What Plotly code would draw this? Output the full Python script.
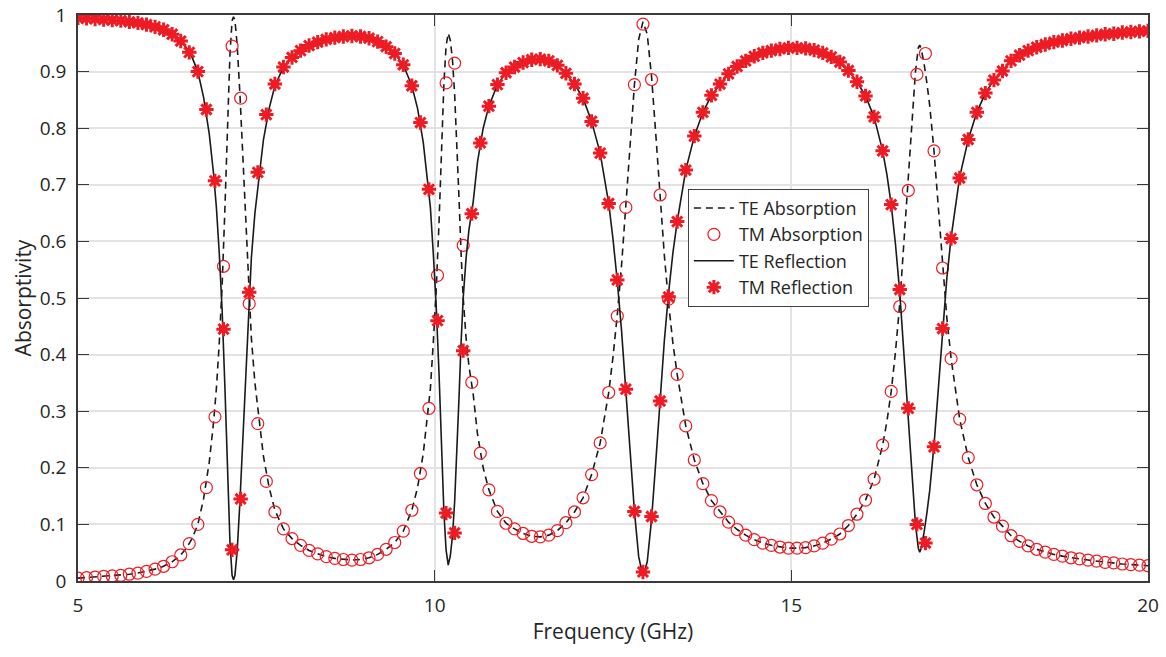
import numpy as np
import plotly.graph_objects as go

# ---- TM polarisation: sampled points (markers) ----
tm_freq = np.linspace(5, 20, 126)  # GHz, 0.12 GHz step

tm_absorption = [
    0.005, 0.006, 0.007, 0.008, 0.009, 0.010, 0.012, 0.014, 0.017, 0.021,
    0.026, 0.034, 0.046, 0.066, 0.100, 0.165, 0.290, 0.556, 0.945, 0.853,
    0.490, 0.278, 0.176, 0.122, 0.092, 0.075, 0.063, 0.054, 0.048, 0.043,
    0.040, 0.038, 0.037, 0.038, 0.041, 0.047, 0.056, 0.068, 0.088, 0.125,
    0.190, 0.305, 0.540, 0.880, 0.915, 0.593, 0.351, 0.226, 0.161, 0.123,
    0.102, 0.092, 0.084, 0.079, 0.078, 0.081, 0.089, 0.103, 0.122, 0.147,
    0.188, 0.244, 0.333, 0.468, 0.660, 0.877, 0.984, 0.886, 0.682, 0.498,
    0.365, 0.274, 0.214, 0.172, 0.142, 0.122, 0.104, 0.091, 0.081, 0.073,
    0.067, 0.063, 0.060, 0.058, 0.058, 0.059, 0.062, 0.067, 0.074, 0.083,
    0.098, 0.118, 0.143, 0.180, 0.240, 0.335, 0.485, 0.690, 0.895, 0.932,
    0.760, 0.553, 0.393, 0.286, 0.218, 0.170, 0.137, 0.113, 0.097, 0.080,
    0.070, 0.062, 0.056, 0.051, 0.047, 0.044, 0.041, 0.039, 0.037, 0.035,
    0.033, 0.032, 0.030, 0.029, 0.028, 0.027,
]

tm_reflection = [
    0.995, 0.994, 0.993, 0.992, 0.991, 0.990, 0.988, 0.986, 0.983, 0.979,
    0.974, 0.966, 0.954, 0.934, 0.900, 0.833, 0.707, 0.445, 0.055, 0.145,
    0.510, 0.722, 0.824, 0.878, 0.908, 0.925, 0.937, 0.946, 0.952, 0.957,
    0.960, 0.962, 0.963, 0.962, 0.959, 0.953, 0.944, 0.932, 0.912, 0.875,
    0.810, 0.692, 0.460, 0.120, 0.085, 0.407, 0.649, 0.774, 0.839, 0.877,
    0.898, 0.908, 0.916, 0.921, 0.922, 0.919, 0.911, 0.897, 0.878, 0.853,
    0.812, 0.756, 0.667, 0.532, 0.339, 0.123, 0.016, 0.114, 0.318, 0.502,
    0.635, 0.726, 0.786, 0.828, 0.858, 0.878, 0.896, 0.909, 0.919, 0.927,
    0.933, 0.937, 0.940, 0.942, 0.942, 0.941, 0.938, 0.933, 0.926, 0.917,
    0.902, 0.882, 0.857, 0.820, 0.760, 0.665, 0.515, 0.305, 0.100, 0.067,
    0.237, 0.446, 0.605, 0.712, 0.780, 0.828, 0.862, 0.885, 0.901, 0.919,
    0.929, 0.937, 0.943, 0.948, 0.952, 0.955, 0.958, 0.960, 0.962, 0.964,
    0.966, 0.967, 0.969, 0.970, 0.971, 0.972,
]

# ---- TE polarisation: continuous curves (denser near resonances) ----
te_freq = [
    5.00, 5.12, 5.24, 5.36, 5.48, 5.60, 5.72, 5.84, 5.96, 6.08, 6.20, 6.32, 6.44, 6.52,
    6.60, 6.68, 6.76, 6.84, 6.90, 6.94, 6.98, 7.02, 7.06, 7.10, 7.13, 7.16, 7.18, 7.20,
    7.23, 7.27, 7.31, 7.35, 7.39, 7.43, 7.48, 7.54, 7.60, 7.68, 7.76, 7.88,
    8.00, 8.12, 8.24, 8.36, 8.48, 8.60, 8.72, 8.84, 8.96, 9.08, 9.20, 9.32, 9.44,
    9.56, 9.68, 9.76, 9.84, 9.90, 9.94, 9.98, 10.02, 10.06, 10.10, 10.13, 10.16, 10.19,
    10.22, 10.25, 10.28, 10.31, 10.34, 10.37, 10.40, 10.44, 10.48, 10.54, 10.60, 10.68,
    10.76, 10.88,
    11.00, 11.12, 11.24, 11.36, 11.48, 11.60, 11.72, 11.84, 11.96, 12.08, 12.20, 12.32,
    12.44, 12.50, 12.56, 12.62, 12.68, 12.74, 12.80, 12.86, 12.92, 12.98, 13.04, 13.10,
    13.16, 13.22, 13.28, 13.34, 13.40,
    13.52, 13.64, 13.76, 13.88, 14.00, 14.12, 14.24, 14.36, 14.48, 14.60, 14.72, 14.84,
    14.96, 15.08, 15.20, 15.32, 15.44, 15.56, 15.68, 15.80, 15.92, 16.04, 16.16,
    16.28, 16.34, 16.40, 16.46, 16.52, 16.58, 16.64, 16.70, 16.74, 16.78, 16.80, 16.82,
    16.86, 16.90, 16.94, 17.00, 17.06, 17.12, 17.18, 17.24, 17.30, 17.36,
    17.48, 17.60, 17.72, 17.84, 17.96, 18.08, 18.20, 18.32, 18.44, 18.56, 18.68, 18.80,
    18.92, 19.04, 19.16, 19.28, 19.40, 19.52, 19.64, 19.76, 19.88, 20.00,
]

te_absorption = [
    0.005, 0.006, 0.007, 0.008, 0.009, 0.010, 0.012, 0.014, 0.017, 0.021, 0.026, 0.034, 0.046, 0.058,
    0.075, 0.100, 0.145, 0.210, 0.280, 0.340, 0.420, 0.520, 0.660, 0.820, 0.930, 0.990, 0.997, 0.990,
    0.950, 0.860, 0.750, 0.630, 0.520, 0.430, 0.350, 0.280, 0.220, 0.165, 0.125, 0.092,
    0.075, 0.063, 0.054, 0.048, 0.043, 0.040, 0.038, 0.037, 0.038, 0.041, 0.047, 0.056, 0.068,
    0.088, 0.125, 0.165, 0.225, 0.290, 0.340, 0.420, 0.510, 0.630, 0.780, 0.880, 0.945, 0.968,
    0.955, 0.920, 0.860, 0.780, 0.680, 0.580, 0.500, 0.430, 0.380, 0.330, 0.260, 0.200,
    0.161, 0.123,
    0.102, 0.092, 0.084, 0.079, 0.078, 0.081, 0.089, 0.103, 0.122, 0.147, 0.188, 0.244,
    0.333, 0.396, 0.470, 0.558, 0.661, 0.771, 0.876, 0.957, 0.988, 0.966, 0.892, 0.789,
    0.679, 0.575, 0.490, 0.420, 0.365,
    0.274, 0.214, 0.172, 0.142, 0.122, 0.104, 0.091, 0.081, 0.073, 0.067, 0.063, 0.060,
    0.058, 0.058, 0.059, 0.062, 0.067, 0.074, 0.083, 0.098, 0.118, 0.143, 0.180,
    0.240, 0.282, 0.335, 0.405, 0.490, 0.600, 0.710, 0.830, 0.900, 0.942, 0.947, 0.940,
    0.915, 0.880, 0.840, 0.760, 0.660, 0.553, 0.465, 0.393, 0.335, 0.286,
    0.218, 0.170, 0.137, 0.113, 0.097, 0.080, 0.070, 0.062, 0.056, 0.051, 0.047, 0.044,
    0.041, 0.039, 0.037, 0.035, 0.033, 0.032, 0.030, 0.029, 0.028, 0.027,
]

te_reflection = [
    0.995, 0.994, 0.993, 0.992, 0.991, 0.990, 0.988, 0.986, 0.983, 0.979, 0.974, 0.966, 0.954, 0.942,
    0.925, 0.900, 0.855, 0.790, 0.720, 0.660, 0.580, 0.480, 0.340, 0.180, 0.070, 0.010, 0.002, 0.010,
    0.050, 0.140, 0.250, 0.370, 0.480, 0.570, 0.650, 0.720, 0.780, 0.835, 0.875, 0.908,
    0.925, 0.937, 0.946, 0.952, 0.957, 0.960, 0.962, 0.963, 0.962, 0.959, 0.953, 0.944, 0.932,
    0.912, 0.875, 0.835, 0.775, 0.710, 0.660, 0.580, 0.490, 0.370, 0.220, 0.120, 0.055, 0.028,
    0.045, 0.080, 0.140, 0.220, 0.320, 0.420, 0.500, 0.570, 0.620, 0.670, 0.740, 0.800,
    0.839, 0.877,
    0.898, 0.908, 0.916, 0.921, 0.922, 0.919, 0.911, 0.897, 0.878, 0.853, 0.812, 0.756,
    0.667, 0.604, 0.530, 0.442, 0.339, 0.229, 0.124, 0.043, 0.008, 0.034, 0.108, 0.211,
    0.321, 0.425, 0.510, 0.580, 0.635,
    0.726, 0.786, 0.828, 0.858, 0.878, 0.896, 0.909, 0.919, 0.927, 0.933, 0.937, 0.940,
    0.942, 0.942, 0.941, 0.938, 0.933, 0.926, 0.917, 0.902, 0.882, 0.857, 0.820,
    0.760, 0.718, 0.665, 0.595, 0.510, 0.400, 0.290, 0.170, 0.100, 0.058, 0.051, 0.058,
    0.085, 0.120, 0.160, 0.240, 0.340, 0.447, 0.535, 0.607, 0.665, 0.714,
    0.780, 0.828, 0.862, 0.885, 0.901, 0.919, 0.929, 0.937, 0.943, 0.948, 0.952, 0.955,
    0.958, 0.960, 0.962, 0.964, 0.966, 0.967, 0.969, 0.970, 0.971, 0.972,
]

assert len(tm_absorption) == len(tm_reflection) == len(tm_freq)
assert len(te_absorption) == len(te_reflection) == len(te_freq)

y_ticks = [0, 0.1, 0.2, 0.3, 0.4, 0.5, 0.6, 0.7, 0.8, 0.9, 1]
y_tick_labels = ["0", "0.1", "0.2", "0.3", "0.4", "0.5", "0.6", "0.7", "0.8", "0.9", "1"]
x_ticks = [5, 10, 15, 20]

RED = "#ED1C24"
FONT = "Open Sans"
TEXT = "#262626"

fig = go.Figure()

fig.add_trace(go.Scatter(
    x=te_freq, y=te_absorption, mode="lines", name="TE Absorption",
    line=dict(color="#1a1a1a", width=1.6, dash="7px,5px"),
))
fig.add_trace(go.Scatter(
    x=tm_freq, y=tm_absorption, mode="markers", name="TM Absorption",
    marker=dict(symbol="circle-open", size=12, color=RED, line=dict(width=1.2, color=RED)),
))
fig.add_trace(go.Scatter(
    x=te_freq, y=te_reflection, mode="lines", name="TE Reflection",
    line=dict(color="#1a1a1a", width=1.6),
))
fig.add_trace(go.Scatter(
    x=tm_freq, y=tm_reflection, mode="markers", name="TM Reflection",
    marker=dict(symbol="asterisk-open", size=12, color=RED, line=dict(width=3, color=RED)),
))

axis_common = dict(
    showline=True, linecolor="#3a3a3a", linewidth=1.5, mirror="ticks",
    ticks="inside", ticklen=11, tickwidth=1.2, tickcolor="#3a3a3a",
    showgrid=True, gridcolor="#e3e3e3", gridwidth=1.5,
    zeroline=False, automargin=False, ticklabeloverflow="allow",
    tickfont=dict(family=FONT, size=19, color=TEXT),
)

fig.update_layout(
    width=1166, height=657,
    margin=dict(l=78, r=18, t=15, b=76),
    paper_bgcolor="white", plot_bgcolor="white",
    font=dict(family=FONT, size=18, color=TEXT),
    xaxis=dict(
        range=[5, 20], tickvals=x_ticks, ticktext=[str(v) for v in x_ticks],
        title=dict(text="Frequency (GHz)", font=dict(family=FONT, size=21, color=TEXT), standoff=8),
        ticklabelstandoff=6,
        **axis_common,
    ),
    yaxis=dict(
        range=[0, 1], tickvals=y_ticks, ticktext=y_tick_labels,
        title=dict(text="Absorptivity", font=dict(family=FONT, size=21, color=TEXT), standoff=2),
        ticklabelstandoff=6,
        **axis_common,
    ),
    legend=dict(
        x=0.570, y=0.693, xanchor="left", yanchor="top",
        bgcolor="white", bordercolor="#404040", borderwidth=1,
        font=dict(family=FONT, size=18, color=TEXT),
        tracegroupgap=0, itemwidth=40,
    ),
    showlegend=True,
)

fig.write_html("out.html")
